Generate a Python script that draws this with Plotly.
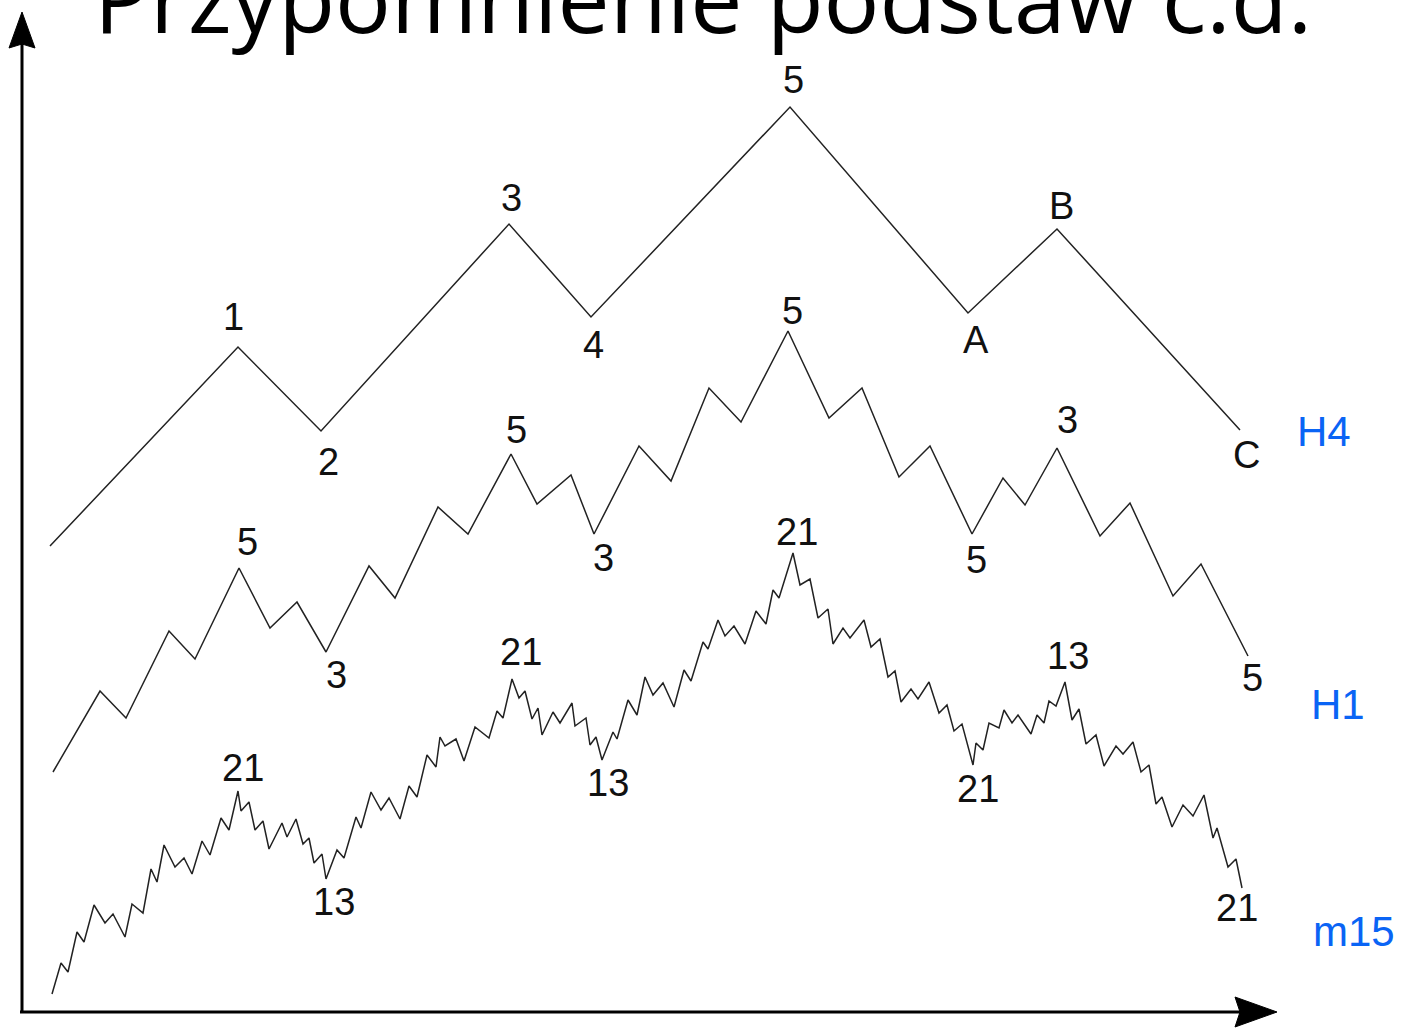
import plotly.graph_objects as go

W, H = 1403, 1028

# ---- data (in picture pixel units) ----
h4_x = [50, 238, 321, 509, 591, 790, 968, 1057, 1240]
h4_y = [546, 347, 431, 224, 317, 107, 313, 229, 430]

h1_x = [53, 100, 126, 169, 195, 239, 270, 297, 326, 369, 395, 438, 468, 511, 537, 571, 594,
        639, 671, 709, 741, 788, 829, 862, 899, 930, 972, 1003, 1025, 1057, 1100, 1130, 1173,
        1201, 1248]
h1_y = [772, 691, 718, 631, 659, 568, 628, 602, 652, 566, 598, 507, 534, 454, 504, 475, 534,
        446, 481, 388, 422, 331, 418, 388, 477, 446, 534, 478, 505, 448, 536, 503, 596,
        564, 656]

m15_x = [52, 61, 68, 77, 84, 94, 105, 113, 125, 132, 143, 151, 157, 164, 175, 184, 192, 202, 210, 221, 229, 238,
         241, 249, 255, 263, 269, 282, 287, 296, 303, 309, 314, 322, 326,
         337, 344, 356, 361, 371, 381, 389, 400, 409, 417, 427, 436, 440, 445, 456, 464, 475, 489, 497, 503, 512,
         519, 525, 532, 538, 542, 553, 560, 572, 575, 586, 590, 596, 602,
         613, 617, 628, 637, 645, 653, 663, 674, 684, 691, 703, 708, 718, 725, 734, 745, 756, 766, 773, 779, 793,
         800, 810, 818, 828, 833, 843, 850, 864, 871, 880, 888, 895, 901, 911, 918, 929, 939, 947, 954, 962, 973,
         976, 983, 989, 999, 1004, 1012, 1018, 1031, 1037, 1044, 1049, 1056, 1065,
         1072, 1079, 1086, 1096, 1104, 1116, 1123, 1133, 1141, 1149, 1156, 1162, 1172, 1183, 1193, 1204, 1213,
         1217, 1228, 1236, 1242]
m15_y = [994, 963, 972, 932, 942, 905, 923, 914, 937, 904, 913, 869, 882, 845, 867, 858, 874, 841, 855, 818, 830, 791,
         811, 802, 830, 821, 849, 823, 837, 819, 844, 838, 863, 854, 879,
         850, 858, 817, 828, 792, 810, 798, 819, 786, 797, 755, 767, 737, 746, 739, 761, 727, 738, 711, 718, 679,
         698, 691, 719, 708, 735, 712, 723, 703, 726, 718, 745, 737, 760,
         732, 739, 700, 715, 677, 695, 683, 707, 670, 681, 642, 649, 620, 636, 626, 644, 611, 624, 590, 598, 553,
         585, 579, 618, 609, 644, 628, 638, 620, 647, 639, 677, 671, 702, 689, 699, 682, 713, 705, 731, 724, 765,
         743, 750, 723, 728, 710, 723, 715, 734, 715, 723, 701, 706, 682,
         720, 709, 744, 735, 766, 746, 754, 742, 772, 765, 804, 797, 827, 805, 816, 795, 838,
         828, 867, 859, 888]

h4_labels = ["1", "2", "3", "4", "5", "A", "B", "C"]
h4_lab_x = [233, 328, 511, 593, 793, 976, 1061, 1246]
h4_lab_y = [317, 462, 198, 345, 80, 340, 206, 455]

h1_labels = ["5", "3", "5", "3", "5", "5", "3", "5"]
h1_lab_x = [247, 336, 516, 603, 792, 976, 1067, 1252]
h1_lab_y = [542, 675, 430, 558, 311, 560, 420, 678]

m15_labels = ["21", "13", "21", "13", "21", "21", "13", "21"]
m15_lab_x = [243, 334, 521, 608, 797, 978, 1068, 1237]
m15_lab_y = [768, 902, 652, 783, 532, 789, 656, 908]

tf_labels = ["H4", "H1", "m15"]
tf_x = [1324, 1338, 1354]
tf_y = [431, 704, 931]

title_text = "Przypomnienie podstaw c.d."

LINE = "#222222"
BLUE = "#0a64f5"

fig = go.Figure()
for xs, ys in [(h4_x, h4_y), (h1_x, h1_y), (m15_x, m15_y)]:
    fig.add_trace(go.Scatter(x=xs, y=ys, mode="lines",
                             line=dict(color=LINE, width=1.5),
                             hoverinfo="skip", showlegend=False))

ann = []
for labs, xs, ys in [(h4_labels, h4_lab_x, h4_lab_y),
                     (h1_labels, h1_lab_x, h1_lab_y),
                     (m15_labels, m15_lab_x, m15_lab_y)]:
    for t, x, y in zip(labs, xs, ys):
        ann.append(dict(x=x, y=y, text=t, showarrow=False, xanchor="center", yanchor="middle",
                        font=dict(family="Liberation Sans, Arial, sans-serif", size=38, color="#111111")))
for t, x, y in zip(tf_labels, tf_x, tf_y):
    ann.append(dict(x=x, y=y, text=t, showarrow=False, xanchor="center", yanchor="middle",
                    font=dict(family="Liberation Sans, Arial, sans-serif", size=42, color=BLUE)))
ann.append(dict(x=703, y=62, text=title_text, showarrow=False, xanchor="center", yanchor="bottom",
                font=dict(family="Open Sans, sans-serif", size=93, color="#000000")))

shapes = [
    # vertical axis
    dict(type="line", x0=22, x1=22, y0=1013, y1=40, line=dict(color="#000", width=3)),
    dict(type="path", path="M 22 12 L 9 48 L 22 44 L 35 48 Z", fillcolor="#000", line=dict(color="#000", width=1)),
    # horizontal axis
    dict(type="line", x0=20, x1=1245, y0=1012, y1=1012, line=dict(color="#000", width=3)),
    dict(type="path", path="M 1277 1012 L 1235 997 L 1240 1012 L 1235 1027 Z", fillcolor="#000",
         line=dict(color="#000", width=1)),
]

fig.update_layout(
    width=W, height=H, margin=dict(l=0, r=0, t=0, b=0),
    paper_bgcolor="white", plot_bgcolor="white",
    xaxis=dict(range=[0, W], visible=False, fixedrange=True),
    yaxis=dict(range=[H, 0], visible=False, fixedrange=True),
    annotations=ann, shapes=shapes, showlegend=False,
)

fig.write_html("out.html", config={"displayModeBar": False},
               post_script="document.body.style.margin='0';document.body.style.overflow='hidden';")
